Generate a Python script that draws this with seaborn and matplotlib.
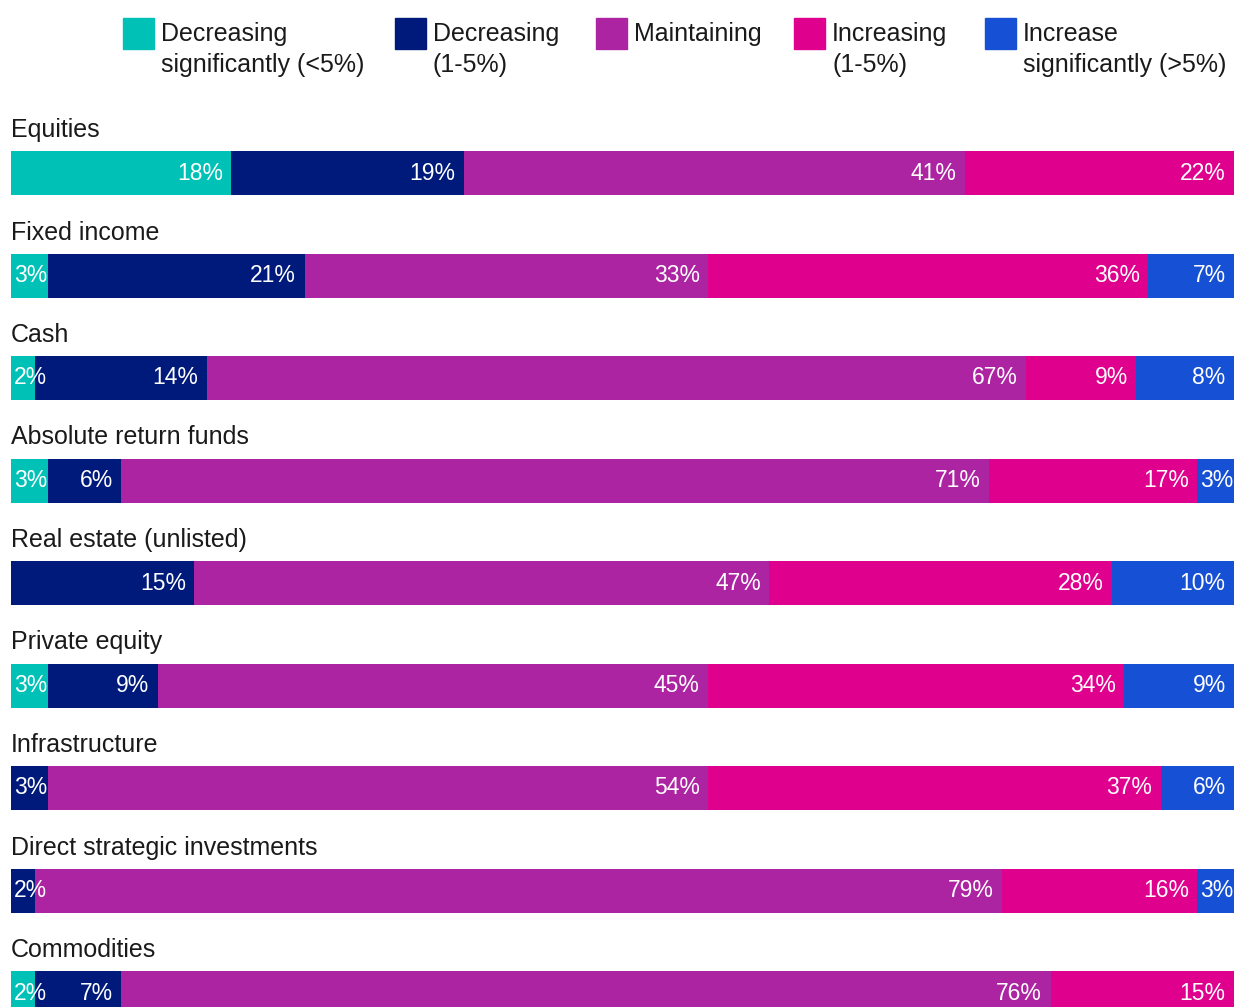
import matplotlib
matplotlib.use("Agg")
import matplotlib.pyplot as plt
from matplotlib.patches import Rectangle
import seaborn as sns
import numpy as np
import pandas as pd

categories = ["Equities", "Fixed income", "Cash", "Absolute return funds",
              "Real estate (unlisted)", "Private equity", "Infrastructure",
              "Direct strategic investments", "Commodities"]
series_names = ["Decreasing\nsignificantly (<5%)", "Decreasing\n(1-5%)", "Maintaining",
                "Increasing\n(1-5%)", "Increase\nsignificantly (>5%)"]
dec_sig = [18, 3, 2, 3, 0, 3, 0, 0, 2]
dec = [19, 21, 14, 6, 15, 9, 3, 2, 7]
maintain = [41, 33, 67, 71, 47, 45, 54, 79, 76]
inc = [22, 36, 9, 17, 28, 34, 37, 16, 15]
inc_sig = [0, 7, 8, 3, 10, 9, 6, 3, 0]
colors = ["#00C1B6", "#001A7B", "#AD24A3", "#E0008E", "#1650D4"]

series = [dec_sig, dec, maintain, inc, inc_sig]
vals = np.array(series, dtype=float)
cum = np.cumsum(vals, axis=0)

sns.set_theme(style="white")
plt.rcParams['font.family'] = ['Liberation Sans', 'DejaVu Sans']

W, H = 1234, 1007
fig = plt.figure(figsize=(W / 100, H / 100), dpi=100)
ax = fig.add_axes([11 / W, 0, 1 - 11 / W, 1])

# Draw stacked bars by overlaying cumulative totals (largest first)
for k in range(len(series) - 1, -1, -1):
    df = pd.DataFrame({"cat": categories, "val": cum[k]})
    sns.barplot(data=df, y="cat", x="val", orient="h", color=colors[k],
                saturation=1, width=44 / 102.5, ax=ax, order=categories,
                linewidth=0, edgecolor="none")

pitch = 102.5
c0 = 173.0
ax.set_xlim(0, 100)
ax.set_ylim((H - c0) / pitch, -c0 / pitch)
ax.axis("off")

# Segment labels
for k in range(len(series)):
    for i, cat in enumerate(categories):
        v = vals[k, i]
        if v <= 0:
            continue
        start = cum[k, i] - v
        end = cum[k, i]
        if v <= 3:
            ax.annotate(f"{int(v)}%", (start, i), xytext=(2.2, 0), textcoords="offset points",
                        ha="left", va="center", color="white", fontsize=16.5)
        else:
            ax.annotate(f"{int(v)}%", (end, i), xytext=(-6, 0), textcoords="offset points",
                        ha="right", va="center", color="white", fontsize=16.5)

# Category labels
for i, cat in enumerate(categories):
    ax.text(0, i - 43 / pitch, cat, ha="left", va="center", fontsize=18, color="#1a1a1a")

# Legend (manual)
leg_x = [123, 395, 596, 794, 985]
for x, name, col in zip(leg_x, series_names, colors):
    fig.add_artist(Rectangle((x / W, 1 - 49 / H), 31 / W, 31 / H, color=col,
                             transform=fig.transFigure))
    fig.text((x + 38) / W, 1 - 22 / H, name, ha="left", va="top", fontsize=18,
             color="#1a1a1a", linespacing=1.37)

fig.savefig("out.png", dpi=100)
